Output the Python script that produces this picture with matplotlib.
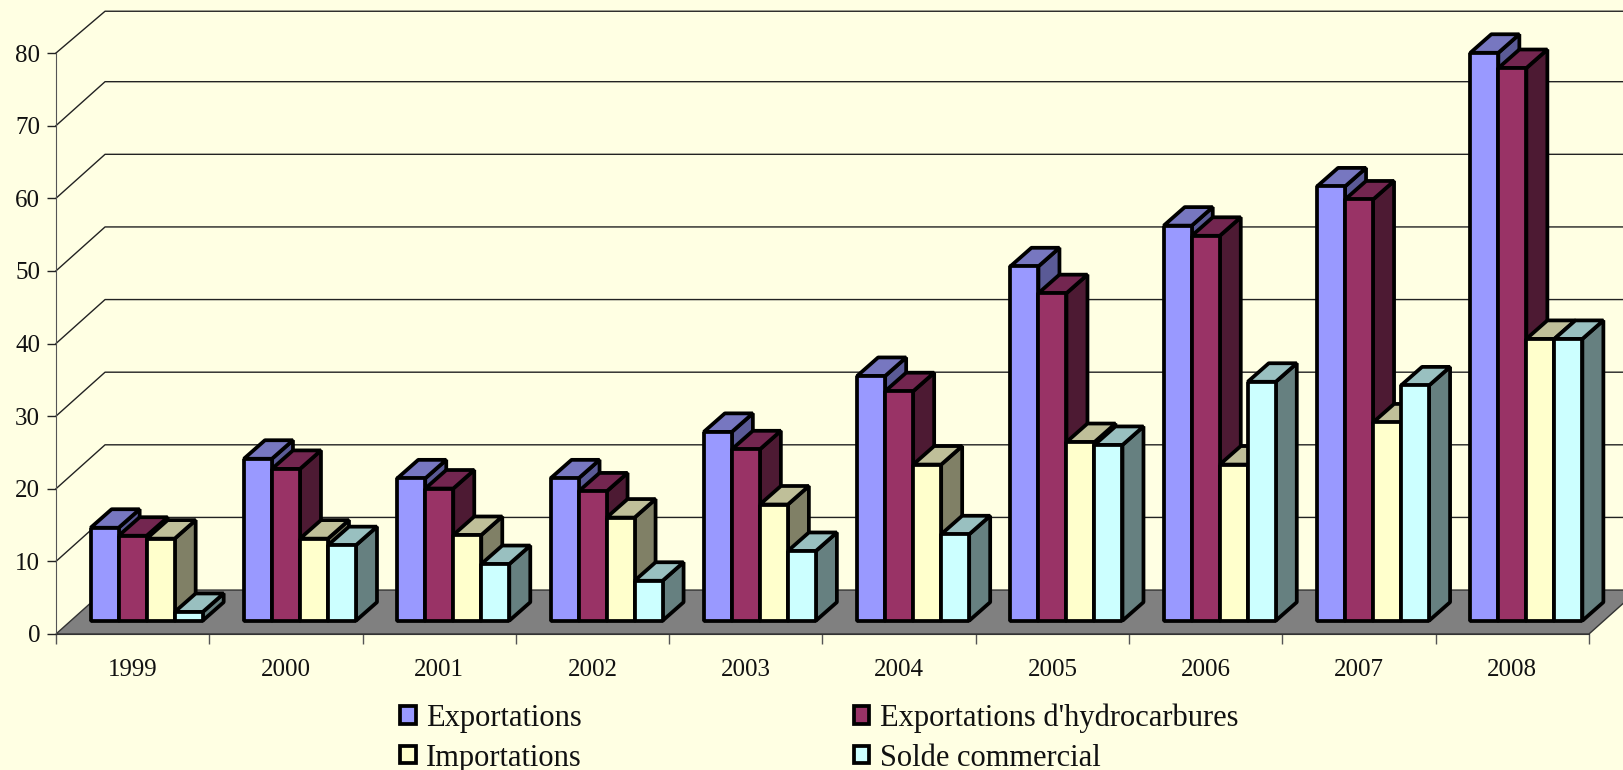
import matplotlib
matplotlib.use('Agg')
import matplotlib.pyplot as plt
from matplotlib.patches import Patch, Polygon

years = ['1999', '2000', '2001', '2002', '2003', '2004', '2005', '2006', '2007', '2008']
exportations = [12.8, 22.3, 19.6, 19.6, 26.0, 33.7, 48.8, 54.4, 59.8, 78.2]
hydrocarbures = [11.7, 20.9, 18.2, 17.8, 23.6, 31.6, 45.1, 53.0, 58.0, 76.1]
importations = [11.3, 11.3, 11.8, 14.2, 16.0, 21.5, 24.6, 21.5, 27.3, 38.8]
solde = [1.2, 10.4, 7.8, 5.5, 9.6, 11.9, 24.2, 32.9, 32.4, 38.8]

series = [exportations, hydrocarbures, importations, solde]
labels = ['Exportations', "Exportations d'hydrocarbures", 'Importations', 'Solde commercial']
# front, top, side
colors = [('#9999FF', '#7777C0', '#5A5A96'),
          ('#993366', '#732650', '#4D1A33'),
          ('#FFFFCC', '#BFBF99', '#808066'),
          ('#CCFFFF', '#99C0C0', '#668080')]

bg = '#FFFFE3'
plt.rcParams['font.family'] = ['Liberation Serif', 'DejaVu Serif']

fig = plt.figure(figsize=(16.23, 7.70), dpi=100, facecolor=bg)
ax = fig.add_axes([56 / 1623, (770 - 634) / 770, 1533 / 1623, 581 / 770], facecolor='none')
ax.set_xlim(0, 10)
ax.set_ylim(0, 80)

# 3d depth, in data units
wall_dx, wall_dy = 0.32, 6.05
base_dy = 1.83
bar_x0, bar_w = 0.226, 0.1827
bar_dx, bar_dy = 0.137, 2.55

# floor and walls
ax.add_patch(Polygon([(0, 0), (10, 0), (10 + wall_dx, wall_dy), (wall_dx, wall_dy)],
                     facecolor='#808080', edgecolor='#333333', lw=1, clip_on=False, zorder=1))
for v in range(10, 90, 10):
    back = min(v + wall_dy, 85.75)  # top line sits a little lower in the original
    ax.plot([0, wall_dx, 10 + wall_dx], [v, back, back],
            color='#222222', lw=1, clip_on=False, zorder=0)

# bars, left to right so the next one hides the side of the previous one
z = 2
for i in range(len(years)):
    for s, vals in enumerate(series):
        x0 = i + bar_x0 + s * bar_w
        x1 = x0 + bar_w
        y0 = base_dy
        y1 = base_dy + vals[i]
        front, top, side = colors[s]
        style = dict(edgecolor='black', lw=2.7, joinstyle='bevel', clip_on=False, zorder=z)
        ax.add_patch(Polygon([(x1, y0), (x1 + bar_dx, y0 + bar_dy), (x1 + bar_dx, y1 + bar_dy), (x1, y1)],
                             facecolor=side, **style))
        ax.add_patch(Polygon([(x0, y1), (x1, y1), (x1 + bar_dx, y1 + bar_dy), (x0 + bar_dx, y1 + bar_dy)],
                             facecolor=top, **style))
        ax.add_patch(Polygon([(x0, y0), (x1, y0), (x1, y1), (x0, y1)],
                             facecolor=front, **style))
        z += 1

for name in ['top', 'right']:
    ax.spines[name].set_visible(False)
ax.spines['left'].set_color('#555555')
ax.spines['bottom'].set_color('#333333')

ax.set_yticks(range(0, 90, 10))
ax.tick_params(axis='y', length=6.5, width=1, color='#222222', pad=5, labelsize=18, labelcolor='#111111')
ax.set_xticks(range(0, 11))
ax.set_xticklabels([])
ax.set_xticks([i + 0.5 for i in range(10)], minor=True)
ax.set_xticklabels(years, minor=True)
ax.tick_params(axis='x', which='major', length=7.5, width=1, color='#555555')
ax.tick_params(axis='x', which='minor', length=0, pad=18, labelsize=18, labelcolor='#111111')

handles = [Patch(facecolor=c[0], edgecolor='black', lw=2.7) for c in colors]
order = [0, 2, 1, 3]
leg = fig.legend([handles[k] for k in order], [labels[k] for k in order], ncols=2,
                 loc='lower left', bbox_to_anchor=(379 / 1623, -24 / 770), frameon=False,
                 fontsize=22, handlelength=0.5, handleheight=0.5, handletextpad=0.35,
                 columnspacing=8.9, labelspacing=0.35, borderpad=0.2, labelcolor='#111111')

fig.savefig('out.png', dpi=100, facecolor=bg)
